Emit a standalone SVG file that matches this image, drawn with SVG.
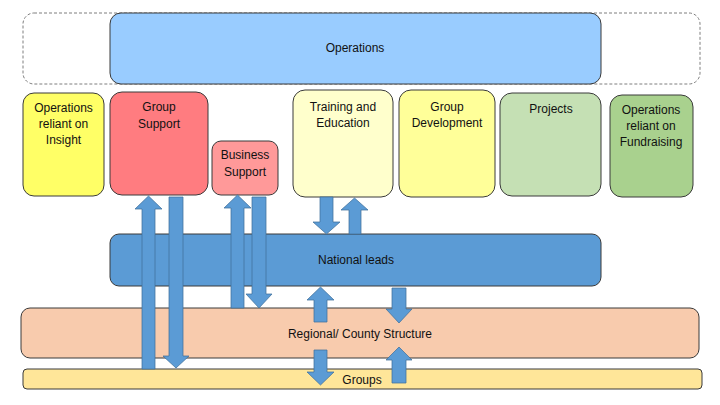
<svg xmlns="http://www.w3.org/2000/svg" width="720" height="405" viewBox="0 0 720 405">
<style>
.box{stroke:#3a3a3a;stroke-width:1}
.t{font-family:"Liberation Sans",Arial,sans-serif;font-size:12px;fill:#111;text-anchor:middle}
.arr{fill:#5B9BD5;stroke:#41719C;stroke-width:0.75}
</style>
<rect width="720" height="405" fill="#fff"/>
<g id="operations-frame">
<rect x="23" y="13" width="677" height="71" rx="11" fill="none" stroke="#7f7f7f" stroke-width="1" stroke-dasharray="3,2"/>
</g>
<g id="operations">
<rect class="box" x="110" y="13" width="491" height="71" rx="11" fill="#99CCFF"/>
<text class="t" x="355" y="52">Operations</text>
</g>
<g id="ops-insight">
<rect class="box" x="23" y="93" width="81" height="103" rx="11" fill="#FFFF66"/>
<text class="t" x="63.5" y="112">Operations</text>
<text class="t" x="63.5" y="128">reliant on</text>
<text class="t" x="63.5" y="144">Insight</text>
</g>
<g id="group-support">
<rect class="box" x="110" y="92" width="98" height="103" rx="12" fill="#FF7C80"/>
<text class="t" x="159" y="111">Group</text>
<text class="t" x="159" y="128">Support</text>
</g>
<g id="business-support">
<rect class="box" x="212" y="141" width="66" height="54" rx="9" fill="#FF9999"/>
<text class="t" x="245" y="159">Business</text>
<text class="t" x="245" y="176">Support</text>
</g>
<g id="training">
<rect class="box" x="293" y="90" width="100" height="107" rx="12" fill="#FFFFCC"/>
<text class="t" x="343" y="111">Training and</text>
<text class="t" x="343" y="127">Education</text>
</g>
<g id="group-development">
<rect class="box" x="399" y="90" width="96" height="107" rx="12" fill="#FFFF99"/>
<text class="t" x="447" y="111">Group</text>
<text class="t" x="447" y="127">Development</text>
</g>
<g id="projects">
<rect class="box" x="500" y="93" width="101" height="103" rx="12" fill="#C5E0B4"/>
<text class="t" x="551" y="113">Projects</text>
</g>
<g id="ops-fundraising">
<rect class="box" x="610" y="95" width="83" height="102" rx="12" fill="#A9D18E"/>
<text class="t" x="651" y="114">Operations</text>
<text class="t" x="651" y="130">reliant on</text>
<text class="t" x="651" y="146">Fundraising</text>
</g>
<g id="national-leads">
<rect class="box" x="110" y="234" width="491" height="52" rx="9" fill="#5B9BD5"/>
<text class="t" x="356" y="264">National leads</text>
</g>
<g id="regional">
<rect class="box" x="21" y="308" width="678" height="50" rx="9" fill="#F8CBAD"/>
<text class="t" x="360" y="338">Regional/ County Structure</text>
</g>
<g id="groups">
<rect class="box" x="23" y="369" width="679" height="20" rx="4" fill="#FFE699" stroke="#8a7a40"/>
<text class="t" x="362" y="384">Groups</text>
</g>
<g id="connectors">
<!-- Groups up to Group Support -->
<polygon class="arr" points="142,369 142,209 135,209 148.5,196 162,209 155,209 155,369"/>
<!-- Group Support down to Groups -->
<polygon class="arr" points="169,197 183,197 183,356 189,356 176,368 163,356 169,356"/>
<!-- Regional up to Business Support -->
<polygon class="arr" points="231,308 231,208 224,208 237.5,195 251,208 244,208 244,308"/>
<!-- Business Support down to Regional -->
<polygon class="arr" points="252,197 266,197 266,294 272,294 259,308 246,294 252,294"/>
<!-- Training down to National -->
<polygon class="arr" points="320,197 333,197 333,222 340,222 326.5,234 313,222 320,222"/>
<!-- National up to Training -->
<polygon class="arr" points="349,234 349,210 341,210 354.5,198 368,210 361,210 361,234"/>
<!-- Regional up to National -->
<polygon class="arr" points="314,322 314,300 307,300 320.5,287 334,300 327,300 327,322"/>
<!-- National down to Regional -->
<polygon class="arr" points="392,288 406,288 406,309 412,309 399,323 386,309 392,309"/>
<!-- Regional down to Groups -->
<polygon class="arr" points="314,350 327,350 327,372 334,372 320.5,385 307,372 314,372"/>
<!-- Groups up to Regional -->
<polygon class="arr" points="392,383 392,360 386,360 399,347 412,360 406,360 406,383"/>
</g>
</svg>
